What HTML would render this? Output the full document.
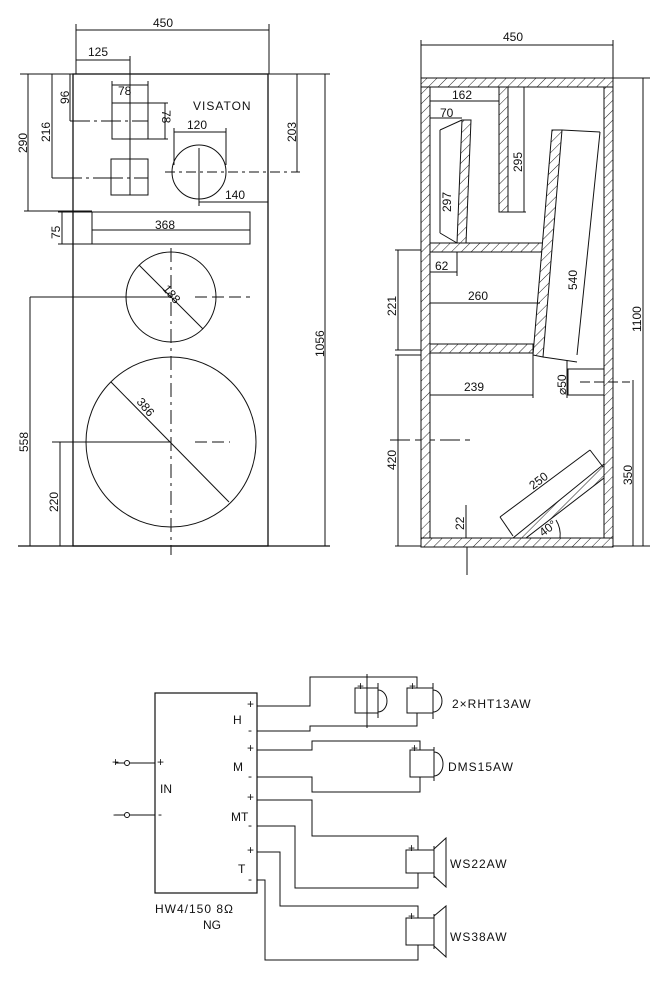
<!DOCTYPE html>
<html><head><meta charset="utf-8"><style>
html,body{margin:0;padding:0;background:#fff}
svg{display:block}
text{font-family:"Liberation Sans",sans-serif;font-size:12px;fill:#111}
</style></head><body>
<svg width="666" height="981" viewBox="0 0 666 981" xmlns="http://www.w3.org/2000/svg">
<defs>
<pattern id="h" patternUnits="userSpaceOnUse" width="7" height="7" patternTransform="rotate(45)">
<rect width="7" height="7" fill="#fff"/><line x1="0" y1="0" x2="0" y2="7" stroke="#222" stroke-width="1"/>
</pattern>
</defs>
<g stroke="#111" fill="none" stroke-width="1">
<rect x="73" y="74" width="195" height="472" stroke-width="1.3"/>
<line x1="18" y1="546" x2="330" y2="546" stroke-width="1.3"/>
<line x1="20" y1="74" x2="73" y2="74"/><line x1="268" y1="74" x2="330" y2="74"/>
<line x1="76" y1="24" x2="76" y2="74"/><line x1="269" y1="24" x2="269" y2="74"/>
<line x1="76" y1="30" x2="269" y2="30"/>
<line x1="76" y1="60" x2="130" y2="60"/><line x1="130" y1="56" x2="130" y2="195"/>
<rect x="112" y="103" width="36" height="36"/>
<rect x="111" y="159" width="37" height="36"/>
<line x1="112" y1="85" x2="148" y2="85"/><line x1="112" y1="81" x2="112" y2="103"/><line x1="148" y1="81" x2="148" y2="103"/>
<line x1="148" y1="103" x2="168" y2="103"/><line x1="148" y1="139" x2="168" y2="139"/><line x1="165" y1="103" x2="165" y2="139"/>
<line x1="70" y1="121" x2="148" y2="121" stroke-dasharray="20,4,3,4"/>
<line x1="52" y1="178" x2="148" y2="178" stroke-dasharray="30,4,3,4"/>
<line x1="70" y1="74" x2="70" y2="121"/><line x1="52" y1="74" x2="52" y2="178"/>
<line x1="28" y1="74" x2="28" y2="211"/><line x1="24" y1="211" x2="92" y2="211"/>
<circle cx="199" cy="172" r="27"/>
<line x1="174" y1="132" x2="226" y2="132"/><line x1="174" y1="128" x2="174" y2="165"/><line x1="226" y1="128" x2="226" y2="165"/>
<line x1="165" y1="172" x2="300" y2="172" stroke-dasharray="10,4,3,4"/>
<line x1="199" y1="148" x2="199" y2="206"/>
<line x1="199" y1="202" x2="268" y2="202"/>
<line x1="297" y1="74" x2="297" y2="172"/>
<rect x="92" y="212" width="158" height="32"/>
<line x1="92" y1="230" x2="250" y2="230"/>
<line x1="58" y1="212" x2="92" y2="212"/><line x1="58" y1="244" x2="92" y2="244"/><line x1="62" y1="212" x2="62" y2="244"/>
<circle cx="171" cy="297" r="45"/>
<line x1="139" y1="265" x2="203" y2="329"/>
<circle cx="171" cy="442" r="85"/>
<line x1="111" y1="382" x2="229" y2="502"/>
<line x1="171" y1="248" x2="171" y2="555" stroke-dasharray="14,5,3,5"/>
<line x1="30" y1="297" x2="171" y2="297"/><line x1="195" y1="297" x2="250" y2="297" stroke-dasharray="12,5"/>
<line x1="52" y1="442" x2="171" y2="442"/><line x1="195" y1="442" x2="230" y2="442" stroke-dasharray="12,5"/>
<line x1="30" y1="297" x2="30" y2="546"/><line x1="60" y1="442" x2="60" y2="546"/>
<line x1="325" y1="74" x2="325" y2="546"/>
<line x1="421" y1="45" x2="613" y2="45"/><line x1="421" y1="40" x2="421" y2="78"/><line x1="613" y1="40" x2="613" y2="78"/>
<line x1="613" y1="78" x2="650" y2="78"/><line x1="613" y1="546" x2="650" y2="546"/>
<line x1="643" y1="78" x2="643" y2="546"/>
<line x1="633" y1="380" x2="633" y2="546"/>
<line x1="395" y1="250" x2="421" y2="250"/><line x1="395" y1="350" x2="421" y2="350"/><line x1="395" y1="355" x2="421" y2="355"/>
<line x1="398" y1="250" x2="398" y2="350"/><line x1="398" y1="355" x2="398" y2="546"/>
<line x1="395" y1="546" x2="421" y2="546"/>
<line x1="390" y1="440" x2="470" y2="440" stroke-dasharray="20,5"/>
<line x1="467" y1="546" x2="467" y2="575"/>
<line x1="466" y1="505" x2="466" y2="538"/>
</g>
<g stroke="#111" stroke-width="1" fill="url(#h)">
<rect x="421" y="78" width="192" height="9"/>
<rect x="421" y="538" width="192" height="9"/>
<rect x="421" y="87" width="9" height="451"/>
<rect x="604" y="87" width="9" height="451"/>
<rect x="499" y="87" width="9" height="125"/>
<polygon points="462,120 471,120 466,243 457,243"/>
<rect x="430" y="243" width="113" height="9"/>
<polygon points="552,130 562,130 543,357 533,355"/>
<rect x="430" y="344" width="103" height="9"/>
<polygon points="513,538 526,538 604,478 604,464"/>
</g>
<g stroke="#111" fill="none" stroke-width="1">
<rect x="568" y="369" width="36" height="26" fill="#fff"/>
<line x1="580" y1="382" x2="630" y2="382" stroke-dasharray="10,4"/>
<line x1="430" y1="101" x2="499" y2="101"/>
<line x1="430" y1="118" x2="462" y2="118"/>
<line x1="440" y1="130" x2="462" y2="120"/><line x1="440" y1="233" x2="457" y2="243"/><line x1="440" y1="130" x2="440" y2="233"/>
<line x1="524" y1="87" x2="524" y2="212"/><line x1="508" y1="212" x2="526" y2="212"/>
<line x1="562" y1="130" x2="600" y2="132"/><line x1="600" y1="132" x2="577" y2="355"/><line x1="543" y1="357" x2="577" y2="362"/>
<line x1="430" y1="272" x2="457" y2="272"/><line x1="457" y1="252" x2="457" y2="276"/>
<line x1="430" y1="303" x2="540" y2="303"/>
<line x1="430" y1="395" x2="533" y2="395"/><line x1="533" y1="353" x2="533" y2="398"/>
<line x1="500" y1="517" x2="590" y2="450"/><line x1="500" y1="517" x2="513" y2="536"/><line x1="590" y1="450" x2="603" y2="467"/>
<path d="M560,538 A28,28 0 0 0 556,520"/>
<line x1="567" y1="360" x2="567" y2="398"/>
<rect x="155" y="693" width="102" height="200" stroke-width="1.2"/>
<line x1="115" y1="763" x2="155" y2="763"/><line x1="115" y1="815" x2="155" y2="815"/>
<polyline points="257,706 310,706 310,677 417,677 417,688"/>
<polyline points="257,731 310,731 310,726 417,726 417,713"/>
<line x1="367" y1="674" x2="367" y2="728"/>
<rect x="355" y="688" width="23" height="25"/><line x1="378" y1="683" x2="378" y2="718"/><path d="M378,690 A9,11 0 0 1 378,712"/>
<rect x="407" y="688" width="26" height="25"/><line x1="433" y1="683" x2="433" y2="719"/><path d="M433,690 A9,11 0 0 1 433,712"/>
<polyline points="257,750 312,750 312,741 420,741 420,750"/>
<polyline points="257,777 312,777 312,792 420,792 420,777"/>
<rect x="410" y="750" width="24" height="27"/><line x1="434" y1="747" x2="434" y2="781"/><path d="M434,752 A9,12 0 0 1 434,776"/>
<polyline points="257,800 312,800 312,836 418,836 418,850"/>
<polyline points="257,826 295,826 295,888 418,888 418,873"/>
<rect x="406" y="850" width="28" height="23"/><line x1="434" y1="846" x2="434" y2="878"/><polygon points="434,849 446,838 446,887 434,876"/>
<polyline points="257,852 280,852 280,906 418,906 418,918"/>
<polyline points="257,880 265,880 265,960 418,960 418,945"/>
<rect x="406" y="918" width="28" height="27"/><line x1="434" y1="914" x2="434" y2="949"/><polygon points="434,916 446,906 446,957 434,946"/>
</g>
<g fill="#fff" stroke="#111"><circle cx="127" cy="763" r="2.5"/><circle cx="127" cy="815" r="2.5"/></g>
<g>
<text x="153" y="27">450</text>
<text x="88" y="56">125</text>
<text x="118" y="95">78</text>
<text x="193" y="110" font-size="11" letter-spacing="1">VISATON</text>
<text x="187" y="129">120</text>
<text x="225" y="199">140</text>
<text x="155" y="229">368</text>
<text transform="translate(162,110) rotate(90)">78</text>
<text transform="translate(69,104) rotate(-90)">96</text>
<text transform="translate(50,142) rotate(-90)">216</text>
<text transform="translate(27,153) rotate(-90)">290</text>
<text transform="translate(60,239) rotate(-90)">75</text>
<text transform="translate(296,142) rotate(-90)">203</text>
<text transform="translate(28,452) rotate(-90)">558</text>
<text transform="translate(58,512) rotate(-90)">220</text>
<text transform="translate(324,357) rotate(-90)">1056</text>
<text transform="translate(162,289) rotate(50)">188</text>
<text transform="translate(136,402) rotate(50)">386</text>
<text x="503" y="41">450</text>
<text x="452" y="99">162</text>
<text x="440" y="117">70</text>
<text transform="translate(451,212) rotate(-90)">297</text>
<text transform="translate(522,172) rotate(-90)">295</text>
<text transform="translate(577,290) rotate(-90)">540</text>
<text x="435" y="270">62</text>
<text x="468" y="300">260</text>
<text x="464" y="391">239</text>
<text transform="translate(396,316) rotate(-90)">221</text>
<text transform="translate(396,470) rotate(-90)">420</text>
<text transform="translate(641,332) rotate(-90)">1100</text>
<text transform="translate(632,485) rotate(-90)">350</text>
<text transform="translate(566,395) rotate(-90)">⌀50</text>
<text transform="translate(464,530) rotate(-90)">22</text>
<text transform="translate(533,490) rotate(-37)">250</text>
<text transform="translate(543,537) rotate(-37)">40°</text>
<text x="233" y="724" font-size="16">H</text>
<text x="233" y="771" font-size="16">M</text>
<text x="231" y="821" font-size="16">MT</text>
<text x="238" y="873" font-size="16">T</text>
<text x="160" y="793" font-size="16">IN</text>
<g font-size="11"><text x="247" y="708">+</text><text x="248" y="734">-</text><text x="247" y="752">+</text><text x="248" y="780">-</text><text x="247" y="801">+</text><text x="248" y="829">-</text><text x="247" y="854">+</text><text x="248" y="883">-</text>
<text x="157" y="766">+</text><text x="158" y="818">-</text><text x="112" y="766">+</text><text x="113" y="818">-</text>
<text x="357" y="690" font-size="8">+</text><text x="409" y="690" font-size="8">+</text><text x="411" y="752" font-size="8">+</text><text x="408" y="852" font-size="8">+</text><text x="408" y="920" font-size="8">+</text></g>
<text x="452" y="708" font-size="16" letter-spacing="1">2×RHT13AW</text>
<text x="448" y="771" font-size="16" letter-spacing="1">DMS15AW</text>
<text x="450" y="868" font-size="16" letter-spacing="1">WS22AW</text>
<text x="450" y="941" font-size="16" letter-spacing="1">WS38AW</text>
<text x="155" y="913" font-size="16" letter-spacing="1">HW4/150 8Ω</text>
<text x="203" y="929" font-size="16">NG</text>
</g>
</svg>
</body></html>
